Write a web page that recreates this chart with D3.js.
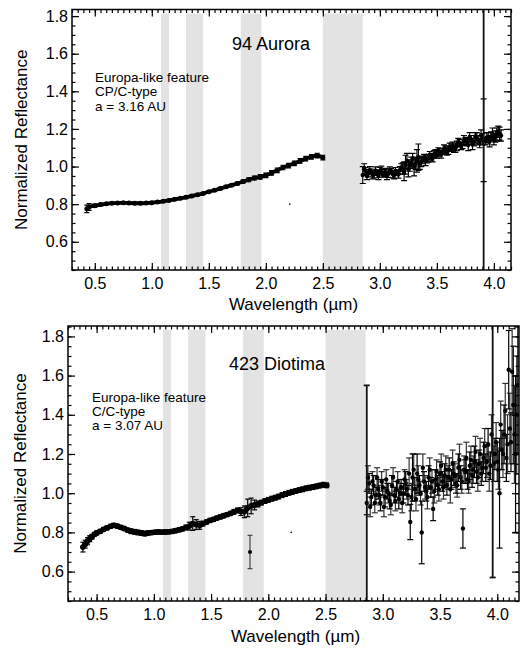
<!DOCTYPE html>
<meta charset="utf-8">
<style>
body { margin: 0; background: #fff; }
text { font-family: "Liberation Sans", Arial, sans-serif; fill: #000; }
.band { fill: #e3e3e3; }
.frame { fill: none; stroke: #000; stroke-width: 1.5px; }
.tick line { stroke: #000; stroke-width: 1.2px; }
.domain { display: none; }
.err { stroke: #000; stroke-width: 1.2px; fill: none; }
.curve { fill: none; stroke: #000; stroke-linejoin: round; }
</style>
<body>
<script src="https://d3js.org/d3.v7.min.js"></script>
<script>

// shaded telluric bands (micron)
var bands = [[1.08, 1.15], [1.30, 1.45], [1.78, 1.96], [2.50, 2.85]];
var xMajor = [0.5, 1.0, 1.5, 2.0, 2.5, 3.0, 3.5, 4.0];
var yMajor = [0.6, 0.8, 1.0, 1.2, 1.4, 1.6, 1.8];

// ---- 94 Aurora ----
var auroraVisWl  = [0.43, 0.45, 0.50, 0.55, 0.60, 0.65, 0.70, 0.75, 0.80, 0.85, 0.90, 0.95, 1.00, 1.05, 1.10, 1.15, 1.20, 1.25, 1.30, 1.35, 1.40, 1.45, 1.50, 1.55, 1.60, 1.65, 1.70, 1.75, 1.80, 1.85, 1.90, 1.95, 2.00, 2.05, 2.10, 2.15, 2.20, 2.25, 2.30, 2.35, 2.40, 2.45, 2.50];
var auroraVisR   = [0.775, 0.785, 0.792, 0.798, 0.802, 0.805, 0.806, 0.807, 0.806, 0.805, 0.805, 0.806, 0.808, 0.811, 0.815, 0.820, 0.826, 0.831, 0.837, 0.843, 0.850, 0.857, 0.866, 0.874, 0.883, 0.892, 0.901, 0.910, 0.920, 0.930, 0.939, 0.945, 0.953, 0.966, 0.980, 0.995, 1.005, 1.017, 1.030, 1.042, 1.052, 1.058, 1.048];
var auroraVisErr = [0.020, 0.018, 0.008, 0.006, 0.005, 0.005, 0.005, 0.005, 0.005, 0.005, 0.005, 0.005, 0.005, 0.005, 0.005, 0.005, 0.005, 0.005, 0.005, 0.005, 0.005, 0.005, 0.005, 0.006, 0.006, 0.006, 0.006, 0.007, 0.008, 0.010, 0.010, 0.012, 0.012, 0.012, 0.012, 0.012, 0.012, 0.012, 0.012, 0.012, 0.012, 0.012, 0.012];

var auroraIrWl  = [2.850, 2.875, 2.900, 2.925, 2.950, 2.975, 3.000, 3.025, 3.050, 3.075, 3.100, 3.125, 3.150, 3.175, 3.200, 3.225, 3.250, 3.275, 3.300, 3.325, 3.350, 3.375, 3.400, 3.425, 3.450, 3.475, 3.500, 3.525, 3.550, 3.575, 3.600, 3.625, 3.650, 3.675, 3.700, 3.725, 3.750, 3.775, 3.800, 3.825, 3.850, 3.875, 3.900, 3.910, 3.925, 3.950, 3.975, 4.000, 4.025, 4.050];
var auroraIrR   = [0.955, 0.975, 0.965, 0.972, 0.960, 0.968, 0.975, 0.958, 0.970, 0.962, 0.975, 0.955, 0.968, 0.980, 0.990, 1.010, 0.985, 1.020, 1.000, 1.030, 1.015, 1.035, 1.030, 1.045, 1.050, 1.065, 1.060, 1.075, 1.080, 1.090, 1.085, 1.100, 1.095, 1.110, 1.125, 1.120, 1.135, 1.115, 1.140, 1.130, 1.150, 1.125, 1.145, 1.140, 1.135, 1.150, 1.160, 1.145, 1.170, 1.175];
var auroraIrErr = [0.045, 0.020, 0.020, 0.015, 0.020, 0.015, 0.020, 0.015, 0.020, 0.020, 0.015, 0.020, 0.015, 0.020, 0.030, 0.050, 0.040, 0.030, 0.050, 0.060, 0.030, 0.020, 0.025, 0.020, 0.020, 0.020, 0.015, 0.020, 0.015, 0.020, 0.020, 0.020, 0.020, 0.025, 0.020, 0.025, 0.020, 0.030, 0.025, 0.020, 0.030, 0.025, 0.030, 0.220, 0.020, 0.030, 0.025, 0.030, 0.035, 0.035];
// interleaved second set of 3-micron channels
var auroraIr2Wl  = [2.8625, 2.8875, 2.9125, 2.9375, 2.9625, 2.9875, 3.0125, 3.0375, 3.0625, 3.0875, 3.1125, 3.1375, 3.1625, 3.1875, 3.2125, 3.2375, 3.2625, 3.2875, 3.3125, 3.3375, 3.3625, 3.3875, 3.4125, 3.4375, 3.4625, 3.4875, 3.5125, 3.5375, 3.5625, 3.5875, 3.6125, 3.6375, 3.6625, 3.6875, 3.7125, 3.7375, 3.7625, 3.7875, 3.8125, 3.8375, 3.8625, 3.8875, 3.9375, 3.9625, 3.9875, 4.0125, 4.0375, 4.0625];
var auroraIr2R   = [0.985, 0.950, 0.980, 0.955, 0.978, 0.950, 0.982, 0.965, 0.950, 0.978, 0.960, 0.975, 0.958, 0.995, 0.975, 1.030, 1.005, 1.040, 1.015, 1.050, 1.025, 1.045, 1.040, 1.060, 1.045, 1.070, 1.080, 1.065, 1.095, 1.080, 1.105, 1.110, 1.100, 1.130, 1.110, 1.140, 1.130, 1.155, 1.120, 1.160, 1.140, 1.165, 1.155, 1.135, 1.175, 1.160, 1.185, 1.165];
var auroraIr2Err = [0.030, 0.020, 0.020, 0.020, 0.020, 0.020, 0.020, 0.020, 0.020, 0.020, 0.020, 0.020, 0.020, 0.020, 0.050, 0.040, 0.030, 0.030, 0.030, 0.070, 0.025, 0.020, 0.020, 0.020, 0.020, 0.020, 0.020, 0.020, 0.020, 0.020, 0.020, 0.020, 0.025, 0.020, 0.020, 0.025, 0.020, 0.025, 0.030, 0.020, 0.025, 0.030, 0.025, 0.030, 0.030, 0.030, 0.030, 0.030];
// points with error bars running off the plot
var auroraSpikeWl = [3.91], auroraSpikeR = [1.14], auroraSpikeErr = [1.6];
var auroraStrayWl = [2.21], auroraStrayR = [0.80];

// ---- 423 Diotima ----
var diotimaVisWl  = [0.38, 0.40, 0.42, 0.44, 0.46, 0.48, 0.50, 0.53, 0.56, 0.59, 0.62, 0.65, 0.68, 0.71, 0.74, 0.77, 0.80, 0.83, 0.86, 0.89, 0.92, 0.95, 0.98, 1.01, 1.04, 1.07, 1.10, 1.13, 1.16, 1.19, 1.22, 1.25, 1.28, 1.31, 1.34, 1.37, 1.40, 1.43, 1.46, 1.49, 1.52, 1.55, 1.58, 1.61, 1.64, 1.67, 1.70, 1.73, 1.76, 1.79, 1.82, 1.85, 1.88, 1.91, 1.94, 1.97, 2.00, 2.03, 2.06, 2.09, 2.12, 2.15, 2.18, 2.21, 2.24, 2.27, 2.30, 2.33, 2.36, 2.39, 2.42, 2.45, 2.48, 2.51];
var diotimaVisR   = [0.725, 0.740, 0.755, 0.768, 0.778, 0.790, 0.797, 0.805, 0.815, 0.823, 0.831, 0.836, 0.832, 0.826, 0.820, 0.812, 0.806, 0.803, 0.800, 0.797, 0.794, 0.797, 0.799, 0.801, 0.802, 0.801, 0.802, 0.803, 0.805, 0.809, 0.813, 0.818, 0.825, 0.832, 0.845, 0.840, 0.836, 0.845, 0.853, 0.861, 0.866, 0.873, 0.879, 0.885, 0.891, 0.897, 0.905, 0.912, 0.906, 0.905, 0.925, 0.935, 0.940, 0.945, 0.952, 0.960, 0.966, 0.972, 0.977, 0.983, 0.990, 0.996, 1.002, 1.007, 1.011, 1.016, 1.020, 1.025, 1.028, 1.031, 1.035, 1.039, 1.043, 1.040];
var diotimaVisErr = [0.025, 0.020, 0.018, 0.015, 0.012, 0.010, 0.010, 0.010, 0.010, 0.010, 0.010, 0.010, 0.010, 0.010, 0.010, 0.010, 0.012, 0.012, 0.012, 0.012, 0.012, 0.010, 0.010, 0.010, 0.010, 0.010, 0.010, 0.010, 0.010, 0.010, 0.010, 0.010, 0.012, 0.020, 0.035, 0.025, 0.020, 0.012, 0.010, 0.010, 0.010, 0.010, 0.010, 0.010, 0.010, 0.010, 0.012, 0.012, 0.020, 0.030, 0.045, 0.040, 0.025, 0.015, 0.012, 0.012, 0.012, 0.012, 0.012, 0.012, 0.012, 0.012, 0.012, 0.012, 0.012, 0.012, 0.012, 0.012, 0.012, 0.012, 0.012, 0.012, 0.012, 0.012];
var diotimaOutWl = [1.84], diotimaOutR = [0.70], diotimaOutErr = [0.085];

var diotimaIrWl  = [2.86, 2.88, 2.90, 2.92, 2.94, 2.96, 2.98, 3.00, 3.02, 3.04, 3.06, 3.08, 3.10, 3.12, 3.14, 3.16, 3.18, 3.20, 3.22, 3.24, 3.26, 3.28, 3.30, 3.32, 3.34, 3.36, 3.38, 3.40, 3.42, 3.44, 3.46, 3.48, 3.50, 3.52, 3.54, 3.56, 3.58, 3.60, 3.62, 3.64, 3.66, 3.68, 3.70, 3.72, 3.74, 3.76, 3.78, 3.80, 3.82, 3.84, 3.86, 3.88, 3.90, 3.92, 3.94, 3.98, 4.00, 4.02, 4.04, 4.06, 4.08, 4.10, 4.12, 4.14, 4.16, 4.18];
var diotimaIrR   = [0.95, 1.05, 0.98, 1.04, 0.99, 1.02, 0.95, 1.03, 0.98, 1.01, 0.96, 1.04, 0.99, 1.02, 0.97, 1.03, 1.00, 1.05, 0.99, 0.853, 1.08, 1.02, 1.10, 1.04, 0.80, 1.06, 1.01, 1.08, 1.03, 0.92, 1.07, 1.04, 1.10, 1.06, 1.09, 1.04, 1.12, 1.07, 1.10, 1.05, 1.13, 1.08, 0.82, 1.11, 1.07, 1.14, 1.09, 1.16, 1.11, 1.15, 1.10, 1.18, 1.13, 1.25, 1.14, 1.20, 1.16, 1.00, 1.22, 1.30, 1.18, 1.63, 1.26, 1.45, 1.20, 1.55];
var diotimaIrErr = [0.06, 0.05, 0.04, 0.05, 0.04, 0.05, 0.04, 0.04, 0.05, 0.04, 0.04, 0.05, 0.04, 0.04, 0.05, 0.04, 0.05, 0.06, 0.05, 0.09, 0.12, 0.06, 0.10, 0.05, 0.16, 0.05, 0.05, 0.06, 0.05, 0.06, 0.05, 0.05, 0.06, 0.05, 0.06, 0.05, 0.06, 0.05, 0.06, 0.05, 0.07, 0.06, 0.10, 0.06, 0.05, 0.07, 0.06, 0.08, 0.06, 0.07, 0.06, 0.08, 0.07, 0.08, 0.07, 0.08, 0.10, 0.28, 0.10, 0.15, 0.12, 0.20, 0.15, 0.30, 0.40, 0.35];
var diotimaIr2Wl  = [2.87, 2.89, 2.91, 2.93, 2.95, 2.97, 2.99, 3.01, 3.03, 3.05, 3.07, 3.09, 3.11, 3.13, 3.15, 3.17, 3.19, 3.21, 3.23, 3.25, 3.27, 3.29, 3.31, 3.33, 3.35, 3.37, 3.39, 3.41, 3.43, 3.45, 3.47, 3.49, 3.51, 3.53, 3.55, 3.57, 3.59, 3.61, 3.63, 3.65, 3.67, 3.69, 3.71, 3.73, 3.75, 3.77, 3.79, 3.81, 3.83, 3.85, 3.87, 3.89, 3.91, 3.93, 3.95, 3.97, 3.99, 4.01, 4.03, 4.05, 4.07, 4.09, 4.11, 4.13, 4.15, 4.17];
var diotimaIr2R   = [1.08, 0.93, 1.06, 0.95, 1.08, 0.99, 1.06, 0.93, 1.07, 1.00, 0.94, 1.08, 0.96, 1.06, 1.00, 0.95, 1.07, 1.02, 1.10, 0.98, 1.12, 0.97, 1.07, 1.00, 1.13, 1.03, 0.98, 1.12, 1.06, 1.01, 1.11, 1.02, 1.14, 1.03, 1.12, 1.08, 1.02, 1.15, 1.09, 1.04, 1.17, 1.06, 1.12, 1.18, 1.06, 1.17, 1.12, 1.21, 1.08, 1.20, 1.13, 1.24, 1.16, 1.10, 1.30, 1.15, 1.26, 1.12, 1.35, 1.20, 1.42, 1.25, 1.33, 1.62, 1.30, 1.40];
var diotimaIr2Err = [0.06, 0.05, 0.05, 0.05, 0.05, 0.05, 0.05, 0.05, 0.05, 0.05, 0.05, 0.05, 0.05, 0.05, 0.05, 0.05, 0.05, 0.05, 0.08, 0.07, 0.08, 0.06, 0.07, 0.06, 0.07, 0.06, 0.06, 0.06, 0.06, 0.06, 0.06, 0.06, 0.06, 0.06, 0.07, 0.06, 0.07, 0.07, 0.06, 0.06, 0.08, 0.06, 0.07, 0.08, 0.06, 0.07, 0.07, 0.08, 0.07, 0.08, 0.07, 0.09, 0.08, 0.09, 0.10, 0.09, 0.10, 0.10, 0.12, 0.12, 0.14, 0.15, 0.18, 0.22, 0.25, 0.30];
var diotimaSpikeWl = [2.86, 3.96], diotimaSpikeR = [1.00, 1.22], diotimaSpikeErr = [0.55, 0.65];
var diotimaStrayWl = [2.20], diotimaStrayR = [0.80];

var svg = d3.select("body").append("svg")
    .attr("width", 522)
    .attr("height", 650);

function zip(wl, r, e) {
  return wl.map(function(w, i) { return {w: w, r: r[i], e: e ? e[i] : 0}; });
}

function drawPanel(p) {
  var x = d3.scaleLinear().domain(p.xDomain).range([p.left, p.right]);
  var y = d3.scaleLinear().domain(p.yDomain).range([p.bottom, p.top]);
  var g = svg.append("g");

  var clipId = "clip" + p.id;
  g.append("clipPath").attr("id", clipId)
    .append("rect")
      .attr("x", p.left).attr("y", p.top)
      .attr("width", p.right - p.left).attr("height", p.bottom - p.top);

  // gray bands
  g.selectAll(".band").data(bands).enter().append("rect")
      .attr("class", "band")
      .attr("x", function(d) { return x(d[0]); })
      .attr("width", function(d) { return x(d[1]) - x(d[0]); })
      .attr("y", p.top + 4)
      .attr("height", p.bottom - p.top - 4);

  var data = g.append("g").attr("clip-path", "url(#" + clipId + ")");

  function errorBars(pts, cap, color, width) {
    var eb = data.append("g").attr("class", "err").style("stroke", color || "#000");
    if (width) eb.style("stroke-width", width + "px");
    pts.forEach(function(d) {
      var cx = x(d.w), y0 = y(d.r - d.e), y1 = y(d.r + d.e);
      eb.append("line").attr("x1", cx).attr("x2", cx).attr("y1", y0).attr("y2", y1);
      eb.append("line").attr("x1", cx - cap).attr("x2", cx + cap).attr("y1", y0).attr("y2", y0);
      eb.append("line").attr("x1", cx - cap).attr("x2", cx + cap).attr("y1", y1).attr("y2", y1);
    });
  }
  function dots(pts, r) {
    data.append("g").selectAll("circle").data(pts).enter().append("circle")
        .attr("cx", function(d) { return x(d.w); })
        .attr("cy", function(d) { return y(d.r); })
        .attr("r", r)
        .attr("fill", "#000");
  }

  // visible/near-IR part: a dense thick trace
  var vis = zip(p.visWl, p.visR, p.visErr);
  errorBars(vis, 2.5);
  data.append("path").datum(vis)
      .attr("class", "curve")
      .style("stroke-width", p.curveWidth + "px")
      .attr("d", d3.line().x(function(d) { return x(d.w); })
                          .y(function(d) { return y(d.r); })
                          .curve(d3.curveMonotoneX));
  dots(vis, p.curveWidth / 2 + 0.6);

  if (p.outWl) {
    var out = zip(p.outWl, p.outR, p.outErr);
    errorBars(out, 2.5, "#444");
    dots(out, 2);
  }

  // 3 micron region
  var ir2 = zip(p.ir2Wl, p.ir2R, p.ir2Err);
  errorBars(ir2, 3, p.ir2Color);
  var ir = zip(p.irWl, p.irR, p.irErr);
  errorBars(ir, 3, "#000");
  dots(ir2, 2.2);
  dots(ir, 2.2);

  var spikes = zip(p.spikeWl, p.spikeR, p.spikeErr);
  errorBars(spikes, 3, "#111", 1.8);

  dots(zip(p.strayWl, p.strayR), 0.8);

  // axes: ticks point inside on all four sides
  var xMinor = d3.range(Math.ceil(p.xDomain[0] * 20), Math.floor(p.xDomain[1] * 20) + 1)
      .map(function(i) { return i / 20; });
  var yMinor = d3.range(Math.ceil(p.yDomain[0] * 20), Math.floor(p.yDomain[1] * 20) + 1)
      .map(function(i) { return i / 20; });

  function ax(gen, vals, size, labels, tx, ty) {
    var a = gen.tickValues(vals).tickSize(size).tickPadding(labels ? 8 : 0);
    if (labels) a.tickFormat(d3.format(".1f")); else a.tickFormat("");
    var sel = g.append("g").attr("transform", "translate(" + tx + "," + ty + ")").call(a);
    sel.selectAll("text").style("font-size", "16px").attr("fill", "#000");
    return sel;
  }
  ax(d3.axisBottom(x), xMinor, -3.5, false, 0, p.bottom);
  ax(d3.axisBottom(x), xMajor, -7, true, 0, p.bottom);
  ax(d3.axisTop(x), xMinor, -3.5, false, 0, p.top);
  ax(d3.axisTop(x), xMajor, -7, false, 0, p.top);
  ax(d3.axisLeft(y), yMinor, -3.5, false, p.left, 0);
  var yl = ax(d3.axisLeft(y), yMajor, -7, true, p.left, 0);
  yl.selectAll("text").attr("x", -4);
  ax(d3.axisRight(y), yMinor, -3.5, false, p.right, 0);
  ax(d3.axisRight(y), yMajor, -7, false, p.right, 0);

  g.append("rect").attr("class", "frame")
      .attr("x", p.left).attr("y", p.top)
      .attr("width", p.right - p.left).attr("height", p.bottom - p.top);

  // texts
  g.append("text")
      .attr("x", p.titleX).attr("y", p.titleY)
      .style("font-size", "18px")
      .text(p.title);

  var note = g.append("text").style("font-size", "13.5px");
  p.notes.forEach(function(t, i) {
    note.append("tspan").attr("x", p.noteX).attr("y", p.noteY + i * 14.4).text(t);
  });

  g.append("text")
      .attr("x", (p.left + p.right) / 2 + 2).attr("y", p.xLabelY)
      .attr("text-anchor", "middle")
      .style("font-size", "17px")
      .text("Wavelength (\u00b5m)");

  g.append("text")
      .attr("transform", "translate(" + p.yLabelX + "," + ((p.top + p.bottom) / 2) + ") rotate(-90)")
      .attr("text-anchor", "middle")
      .style("font-size", "17px")
      .text("Normalized Reflectance");
}

drawPanel({
  id: 1, left: 72, right: 511, top: 9.5, bottom: 270,
  xDomain: [0.3, 4.15], yDomain: [0.45, 1.835], curveWidth: 3.8,
  visWl: auroraVisWl, visR: auroraVisR, visErr: auroraVisErr,
  irWl: auroraIrWl, irR: auroraIrR, irErr: auroraIrErr,
  ir2Wl: auroraIr2Wl, ir2R: auroraIr2R, ir2Err: auroraIr2Err, ir2Color: "#000",
  spikeWl: auroraSpikeWl, spikeR: auroraSpikeR, spikeErr: auroraSpikeErr,
  strayWl: auroraStrayWl, strayR: auroraStrayR,
  title: "94 Aurora", titleX: 232, titleY: 50,
  notes: ["Europa-like feature", "CP/C-type", "a = 3.16 AU"], noteX: 95, noteY: 82,
  xLabelY: 310, yLabelX: 27
});

drawPanel({
  id: 2, left: 68, right: 519, top: 326, bottom: 601,
  xDomain: [0.25, 4.19], yDomain: [0.45, 1.853], curveWidth: 4.6,
  visWl: diotimaVisWl, visR: diotimaVisR, visErr: diotimaVisErr,
  outWl: diotimaOutWl, outR: diotimaOutR, outErr: diotimaOutErr,
  irWl: diotimaIrWl, irR: diotimaIrR, irErr: diotimaIrErr,
  ir2Wl: diotimaIr2Wl, ir2R: diotimaIr2R, ir2Err: diotimaIr2Err, ir2Color: "#333",
  spikeWl: diotimaSpikeWl, spikeR: diotimaSpikeR, spikeErr: diotimaSpikeErr,
  strayWl: diotimaStrayWl, strayR: diotimaStrayR,
  title: "423 Diotima", titleX: 229, titleY: 370,
  notes: ["Europa-like feature", "C/C-type", "a = 3.07 AU"], noteX: 92, noteY: 401.5,
  xLabelY: 642, yLabelX: 26
});

</script>
</body>
